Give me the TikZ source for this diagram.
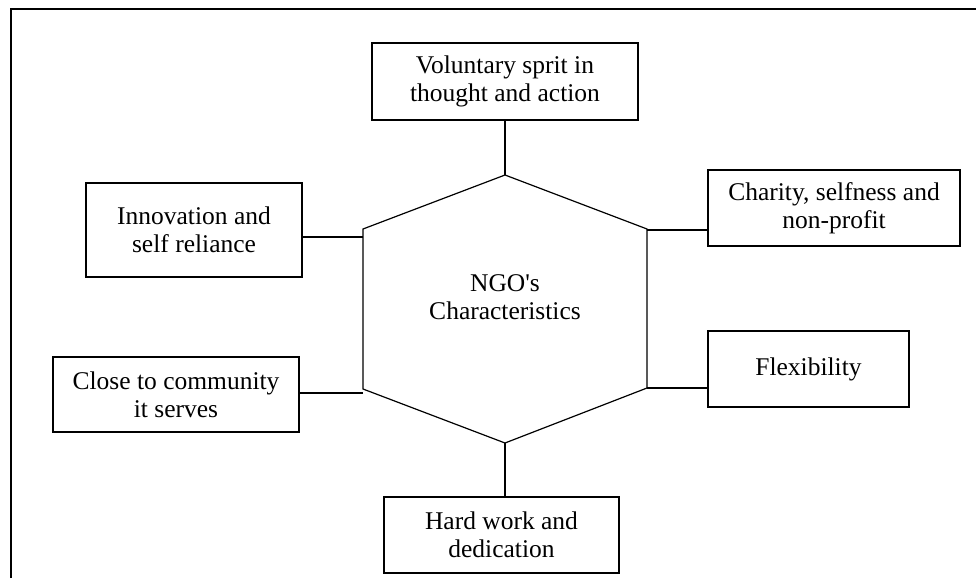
\documentclass[tikz,border=0pt]{standalone}
\usepackage{fontspec}
\setmainfont{Liberation Serif}
\usetikzlibrary{positioning}

\begin{document}
\begin{tikzpicture}[
    x=1pt, y=-1pt,
    feature/.style={draw, line width=1.3pt, minimum height=76pt, inner sep=0pt, align=center, font=\fontsize{25.5}{28}\selectfont},
    link/.style={line width=1.2pt},
]
\useasboundingbox (0,0) rectangle (976,578);
\draw[line width=1.6pt] (11,578) -- (11,9) -- (976,9);

% hexagon corners
\coordinate (hexT) at (505,175);
\coordinate (hexUR) at (647,229);
\coordinate (hexLR) at (647,388);
\coordinate (hexB) at (505,443);
\coordinate (hexLL) at (363,389);
\coordinate (hexUL) at (363,229);
\draw[link] (hexT) -- (hexUR) -- (hexLR) -- (hexB) -- (hexLL) -- (hexUL) -- cycle;
\node[align=center, font=\fontsize{25.5}{28}\selectfont] (ngo) at (505,297) {NGO\textquotesingle s\\Characteristics};

% points where the links leave the hexagon
\coordinate (hexInnov) at (363,237);
\coordinate (hexCharity) at (647,230);
\coordinate (hexClose) at (363,393);
\coordinate (hexFlex) at (647,388);

\node[feature, minimum width=266pt, minimum height=77pt] (volunt) at (505,81.5) {Voluntary sprit in\\thought and action};
\node[feature, minimum width=216pt, minimum height=94pt] (innov) at (194,230) {Innovation and\\self reliance};
\node[feature, minimum width=252pt] (charity) at (834,208) {Charity, selfness and\\non-profit};
\node[feature, minimum width=246pt, minimum height=75pt] (close) at (176,394.5) {Close to community\\it serves};
\node[feature, minimum width=201pt] (flex) at (808.5,369) {Flexibility};
\node[feature, minimum width=235pt] (hard) at (501.5,535) {Hard work and\\dedication};

\draw[link] (hexT) -- (volunt.south);
\draw[link] (hexInnov) -- (hexInnov -| innov.east);
\draw[link] (hexCharity) -- (hexCharity -| charity.west);
\draw[link] (hexClose) -- (hexClose -| close.east);
\draw[link] (hexFlex) -- (hexFlex -| flex.west);
\draw[link] (hexB) -- (hexB |- hard.north);

\end{tikzpicture}
\end{document}
